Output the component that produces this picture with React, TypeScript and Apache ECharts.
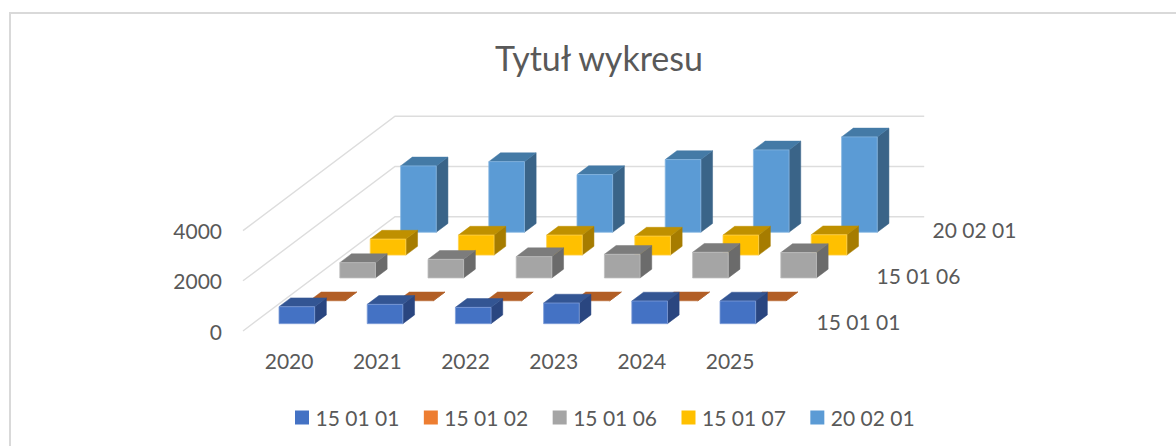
import React, { useEffect, useRef } from "react";
import * as echarts from "echarts";

const years = ["2020", "2021", "2022", "2023", "2024", "2025"];
const seriesNames = ["15 01 01", "15 01 02", "15 01 06", "15 01 07", "20 02 01"];
const values0 = [677, 770, 650, 823, 903, 903];
const values1 = [0, 0, 0, 0, 0, 0];
const values2 = [611, 743, 850, 943, 1023, 1010];
const values3 = [637, 797, 797, 757, 797, 810];
const values4 = [2643, 2813, 2297, 2895, 3280, 3798];
const allValues = [values0, values1, values2, values3, values4];
const yTicks = [0, 2000, 4000];
const depthLabels = ["15 01 01", "15 01 06", "20 02 01"];

const frontColors = ["#4472C4", "#ED7D31", "#A5A5A5", "#FFC000", "#5B9BD5"];
const topColors = ["#335593", "#B25E25", "#7C7C7C", "#BF9000", "#447AA6"];
const sideColors = ["#2A4680", "#9A5020", "#6B6B6B", "#A67C00", "#3A6488"];
const edgeColors = ["#7F9DD8", "#F2B48C", "#BEBEBE", "#FFD24D", "#86B6E2"];

const FONT = "Lato";
const TEXT = "#595959";
const GRID = "#DDDDDD";
const DEPTH_X = 152;
const DEPTH_Y = -114.3;
const BAR_W = 0.404; // share of a category band
const BAR_D = 0.077; // share of the chart depth

function wallsItem(params: any, api: any) {
  const v = api.value(0);
  const band = api.size([1, 0])[0];
  const a = api.coord([0, v]);
  const left = a[0] - band / 2;
  const y = a[1];
  const b = api.coord([years.length - 1, v]);
  const right = b[0] + band / 2;
  return {
    type: "polyline",
    silent: true,
    shape: {
      points: [
        [left, y],
        [left + DEPTH_X, y + DEPTH_Y],
        [right + DEPTH_X, y + DEPTH_Y],
      ],
    },
    style: { fill: "none", stroke: GRID, lineWidth: 1.4 },
  };
}

function barItem(idx: number) {
  return (params: any, api: any) => {
    const cat = api.value(0);
    const val = api.value(1);
    const band = api.size([1, 0])[0];
    const d = 0.1 + idx * 0.2 - 0.036;
    const base = api.coord([cat, 0]);
    const top = api.coord([cat, val]);
    const w = band * BAR_W;
    const x0 = base[0] - w / 2 + DEPTH_X * d;
    const x1 = x0 + w;
    const yb = base[1] + DEPTH_Y * d;
    const yt = top[1] + DEPTH_Y * d;
    const dx = DEPTH_X * BAR_D;
    const dy = DEPTH_Y * BAR_D;
    const children: any[] = [
      {
        type: "polygon",
        shape: { points: [[x1, yb], [x1 + dx, yb + dy], [x1 + dx, yt + dy], [x1, yt]] },
        style: { fill: sideColors[idx], stroke: sideColors[idx], lineWidth: 0.5 },
      },
      {
        type: "polygon",
        shape: { points: [[x0, yt], [x1, yt], [x1 + dx, yt + dy], [x0 + dx, yt + dy]] },
        style: { fill: topColors[idx], stroke: topColors[idx], lineWidth: 0.5 },
      },
    ];
    if (val > 0) {
      children.push({
        type: "rect",
        shape: { x: x0, y: yt, width: w, height: yb - yt },
        style: { fill: frontColors[idx], stroke: edgeColors[idx], lineWidth: 0.8 },
      });
    }
    return { type: "group", children };
  };
}

export default function App() {
  const ref = useRef<HTMLDivElement>(null);
  useEffect(() => {
    document.body.style.margin = "0";
    const chart = echarts.init(ref.current!, undefined, { renderer: "svg" });
    chart.setOption({
      animation: false,
      backgroundColor: "#FFFFFF",
      textStyle: { fontFamily: FONT },
      title: {
        text: "Tytuł wykresu",
        left: 594,
        top: 35,
        textAlign: "center",
        textStyle: { fontFamily: FONT, fontSize: 34, fontWeight: "normal", color: TEXT },
      },
      grid: { left: 243, top: 230.6, width: 529.2, height: 100.4 },
      xAxis: {
        type: "category",
        data: years,
        axisLine: { show: false },
        axisTick: { show: false },
        splitLine: { show: false },
        axisLabel: { color: TEXT, fontFamily: FONT, fontSize: 21, margin: 19, padding: [0, 0, 0, 4] },
      },
      yAxis: {
        type: "value",
        min: yTicks[0],
        max: yTicks[yTicks.length - 1],
        interval: yTicks[1] - yTicks[0],
        axisLine: { show: false },
        axisTick: { show: false },
        splitLine: { show: false },
        axisLabel: { color: TEXT, fontFamily: FONT, fontSize: 21, margin: 21, formatter: (v: number) => String(v) },
      },
      legend: {
        data: seriesNames.map((name, i) => ({ name, itemStyle: { color: frontColors[i] } })),
        left: 290,
        top: 402,
        icon: "rect",
        itemWidth: 14,
        itemHeight: 14,
        itemGap: 24.5,
        selectedMode: false,
        textStyle: { color: TEXT, fontFamily: FONT, fontSize: 21, padding: [0, 0, 0, 1.5] },
      },
      graphic: [
        { type: "line", silent: true, shape: { x1: 10, y1: 13, x2: 1176, y2: 13 }, style: { stroke: "#D9D9D9", lineWidth: 2 } },
        { type: "line", silent: true, shape: { x1: 10, y1: 12, x2: 10, y2: 446 }, style: { stroke: "#D9D9D9", lineWidth: 2 } },
        ...depthLabels.map((text, i) => ({
          type: "text",
          x: [816.5, 876.5, 932.5][i],
          y: [321, 275, 229][i],
          style: { text, fill: TEXT, font: `21px ${FONT}`, textVerticalAlign: "middle" },
        })),
      ],
      series: [
        {
          type: "custom",
          name: "walls",
          coordinateSystem: "cartesian2d",
          clip: false,
          silent: true,
          z: 1,
          encode: { x: 1, y: 0 },
          data: yTicks.map((t) => [t, 0]),
          renderItem: wallsItem,
        },
        ...seriesNames.map((name, i) => ({
          type: "custom",
          name,
          coordinateSystem: "cartesian2d",
          clip: false,
          silent: true,
          z: 10 - i,
          encode: { x: 0, y: 1 },
          data: allValues[i].map((v, c) => [c, v]),
          renderItem: barItem(i),
        })),
      ],
    });
    return () => chart.dispose();
  }, []);
  return <div ref={ref} style={{ width: 1176, height: 446 }} />;
}
